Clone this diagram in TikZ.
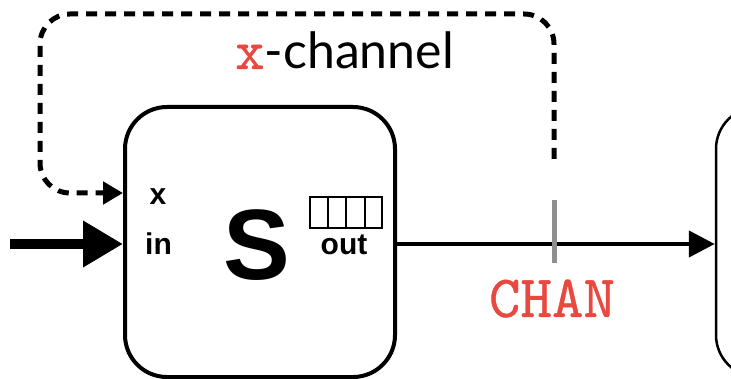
\documentclass[tikz,border=0pt]{standalone}
\usepackage{fontspec}
\setmainfont{Liberation Sans}
\newfontfamily\chanfont{Lato}
\newfontfamily\medtt{lmmono10-regular.otf}[FakeBold=0.6]
\usetikzlibrary{arrows.meta,calc}
\definecolor{chanred}{RGB}{233,72,62}
\definecolor{tickgray}{RGB}{143,143,143}
\begin{document}
\begin{tikzpicture}[x=1pt,y=-1pt,
  sbox/.style={draw,line width=4pt,rounded corners=42pt,minimum width=270pt,minimum height=270pt,inner sep=0pt},
  rbox/.style={draw,line width=2.5pt,rounded corners=42pt,minimum width=270pt,minimum height=270pt,inner sep=0pt},
  bufbox/.style={draw,line width=2pt,minimum width=72pt,minimum height=31pt,inner sep=0pt},
  bufline/.style={line width=2pt},
  portlab/.style={inner sep=0pt,font=\fontsize{30}{30}\selectfont\bfseries},
  inarrow/.style={line width=10pt,-{Triangle[length=40pt,width=44pt]}},
  outarrow/.style={line width=4.5pt,-{Triangle[length=26pt,width=26pt]}},
  tickline/.style={draw=tickgray,line width=5pt},
  loopline/.style={line width=5pt,dash pattern=on 11pt off 8pt,rounded corners=30pt,-{Triangle[length=20pt,width=22pt]}}
]
\clip (0,0) rectangle (731,379);
\node[sbox] (S) at (260,242) {};
\node[rbox] (R) at (851,242) {};
\node[bufbox] (B) at (346,212.5) {};
\foreach \f in {0.25,0.5,0.75}
  \draw[bufline] ($(B.north west)!\f!(B.north east)$) -- ($(B.south west)!\f!(B.south east)$);
\node[portlab,anchor=base] (xp) at (158,205) {x};
\node[portlab,anchor=base] (inp) at (158.5,255) {in};
\node[portlab,anchor=base] (outp) at (344,255) {out};
\node[anchor=base,inner sep=0pt,font=\fontsize{100}{100}\selectfont\bfseries] (Sl) at (257,280) {S};
\node[anchor=base west,inner sep=0pt] (xch) at (235,69) {\textcolor{chanred}{\fontsize{56}{56}\selectfont\medtt x}\fontsize{50}{50}\selectfont\chanfont -channel};
\node[anchor=base,inner sep=0pt,text=chanred,font=\fontsize{60}{60}\selectfont\medtt] (chan) at (552,317) {CHAN};
\coordinate (inStart) at (10,244);
\coordinate (tickTop) at (554,200);
\coordinate (tickBot) at (554,263);
\coordinate (loopStart) at (554,159);
\coordinate (loopTR) at (554,14);
\coordinate (loopTL) at (40,14);
\coordinate (loopBL) at (40,193);
\draw[inarrow] (inStart) -- (S.west |- inStart);
\draw[outarrow] (S.east |- inStart) -- (R.west |- inStart);
\draw[tickline] (tickTop) -- (tickBot);
\draw[loopline] (loopStart) -- (loopTR) -- (loopTL) -- (loopBL) -- (S.west |- loopBL);
\end{tikzpicture}
\end{document}
